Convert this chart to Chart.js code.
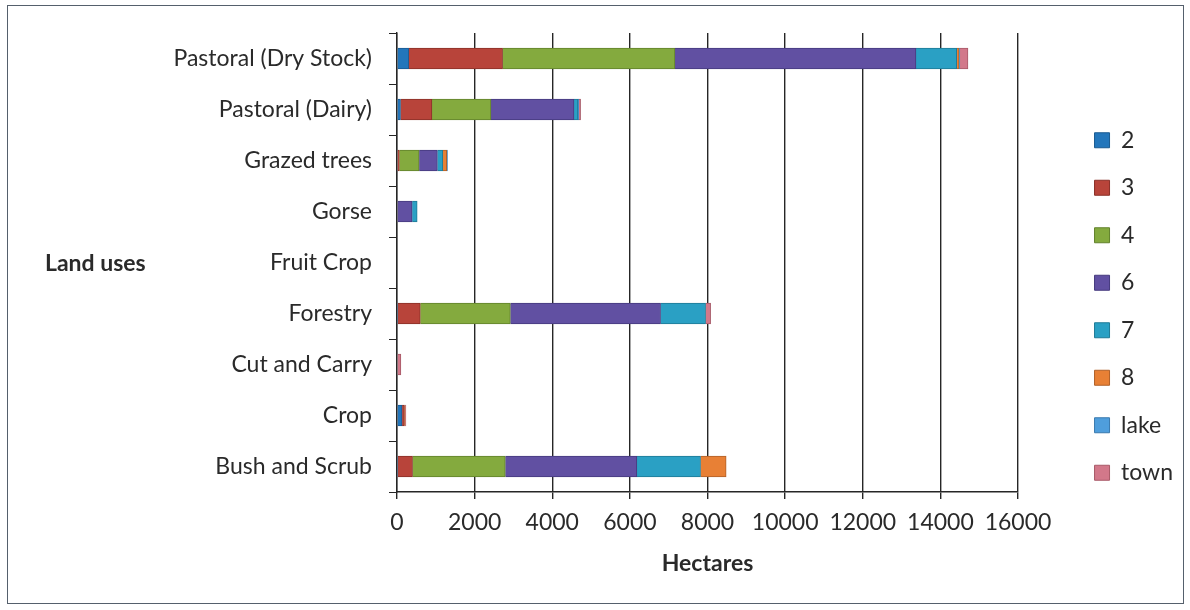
<!DOCTYPE html>
<html>
<head>
<meta charset="utf-8">
<script src="https://cdn.jsdelivr.net/npm/chart.js@4"></script>
<style>
  html, body { margin: 0; padding: 0; background: #ffffff; }
  #wrap { position: relative; width: 1190px; height: 610px; }
  #frame { position: absolute; left: 7px; top: 5px; width: 1177px; height: 599px;
           border: 1.5px solid #55606c; box-sizing: border-box; pointer-events: none; }
  canvas { position: absolute; left: 0; top: 0; }
</style>
</head>
<body>
<div id="wrap">
  <canvas id="c" width="1190" height="610"></canvas>
  <div id="frame"></div>
</div>
<script>
// Land use categories (top to bottom)
const landUses = ['Pastoral (Dry Stock)', 'Pastoral (Dairy)', 'Grazed trees', 'Gorse',
  'Fruit Crop', 'Forestry', 'Cut and Carry', 'Crop', 'Bush and Scrub'];

// Hectares per land use class
const class2 = [300, 90, 0, 0, 0, 20, 0, 130, 20];
const class3 = [2420, 810, 60, 0, 0, 580, 0, 60, 380];
const class4 = [4440, 1520, 510, 0, 0, 2320, 0, 0, 2390];
const class6 = [6210, 2140, 470, 390, 0, 3870, 0, 0, 3390];
const class7 = [1050, 100, 140, 130, 0, 1160, 0, 0, 1640];
const class8 = [60, 0, 100, 0, 0, 0, 0, 20, 660];
const lake = [20, 20, 20, 0, 0, 0, 0, 0, 0];
const town = [210, 50, 0, 0, 0, 130, 100, 20, 0];

const seriesNames = ['2', '3', '4', '6', '7', '8', 'lake', 'town'];
const xTicks = [0, 2000, 4000, 6000, 8000, 10000, 12000, 14000, 16000];

const fills = ['#2376bb', '#b8443a', '#84aa3e', '#6150a2', '#2aa0c4', '#e88035', '#4f9edc', '#d2788a'];
const edges = ['#1a5a90', '#8a3028', '#62822c', '#463a7e', '#1f7a96', '#b0602a', '#3a7aae', '#a85a68'];

const values = [class2, class3, class4, class6, class7, class8, lake, town];
const FONT = 'Lato, "Open Sans", sans-serif';
const SIZE = 23;
const INK = '#2a2a2a';

const datasets = seriesNames.map((name, i) => ({
  label: name,
  data: values[i],
  backgroundColor: fills[i],
  borderColor: edges[i],
  borderWidth: 1,
  barThickness: 21
}));

// Unrotated axis title on the left side
const sideTitle = {
  id: 'sideTitle',
  afterDraw(chart) {
    const ctx = chart.ctx;
    const y = chart.scales.y;
    ctx.save();
    ctx.font = 'bold ' + SIZE + 'px ' + FONT;
    ctx.fillStyle = INK;
    ctx.textAlign = 'left';
    ctx.textBaseline = 'middle';
    ctx.fillText('Land uses', 45, (y.top + y.bottom) / 2 + 1);
    ctx.restore();
  }
};

new Chart(document.getElementById('c'), {
  type: 'bar',
  data: { labels: landUses, datasets },
  options: {
    indexAxis: 'y',
    responsive: false,
    animation: false,
    layout: { padding: { top: 33, bottom: 30, left: 8, right: 7 } },
    plugins: {
      legend: {
        position: 'right',
        labels: {
          font: { family: FONT, size: SIZE },
          color: INK,
          boxWidth: 15,
          boxHeight: 15,
          padding: 24.5
        }
      },
      tooltip: { enabled: false }
    },
    scales: {
      x: {
        stacked: true,
        min: 0,
        max: 16000,
        afterBuildTicks(s) { s.ticks = xTicks.map(v => ({ value: v })); },
        afterFit(s) { s.height = 88; },
        grid: { color: '#262626', lineWidth: 1.4, tickLength: 7, drawTicks: true },
        border: { color: '#262626', width: 1.4 },
        ticks: { font: { family: FONT, size: SIZE }, color: INK, padding: 10, maxRotation: 0,
                 callback: v => String(v) },
        title: { display: true, text: 'Hectares', font: { family: FONT, size: SIZE, weight: 'bold' },
                 color: INK, padding: { top: 10, bottom: 3 } }
      },
      y: {
        stacked: true,
        afterFit(s) { s.width = 389; },
        grid: { drawOnChartArea: false, color: '#262626', tickLength: 8, offset: true },
        border: { color: '#262626', width: 1.4 },
        ticks: { font: { family: FONT, size: SIZE }, color: INK, padding: 17 }
      },
      // empty spacer between the plot and the legend
      gap: {
        type: 'category',
        position: 'right',
        afterFit(s) { s.width = 52; },
        grid: { display: false },
        border: { display: false },
        ticks: { display: false }
      }
    }
  },
  plugins: [sideTitle]
});
</script>
</body>
</html>
